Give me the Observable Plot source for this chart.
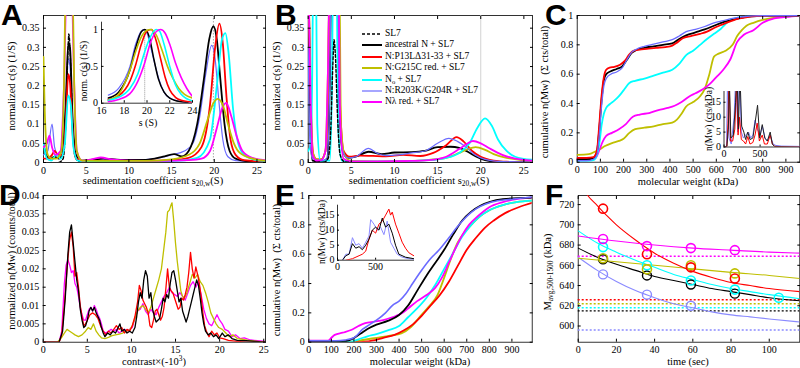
<!DOCTYPE html>
<html><head><meta charset="utf-8">
<script src="https://cdn.jsdelivr.net/npm/d3@7"></script>
<script src="https://cdn.jsdelivr.net/npm/@observablehq/plot@0.6"></script>
<style>
body{margin:0;background:#fff;}
#fig{position:relative;width:800px;height:368px;overflow:hidden;font-family:"Liberation Serif","Times New Roman","Tinos","DejaVu Serif","Noto Serif",serif;color:#000;}
.lab{position:absolute;white-space:nowrap;line-height:1;}
.lab sub{font-size:70%;vertical-align:-0.35em;line-height:0;}
.lab sup{font-size:70%;vertical-align:0.45em;line-height:0;}
.letter{position:absolute;font-family:"Liberation Sans",Arial,sans-serif;font-weight:bold;font-size:30px;line-height:1;}
.leg{position:absolute;font-size:9.5px;white-space:nowrap;line-height:1;}
.leg sub{font-size:70%;vertical-align:-0.3em;line-height:0;}
</style></head>
<body><div id="fig"></div>
<script>
const SERIF = '"Liberation Serif","Times New Roman","Tinos","DejaVu Serif","Noto Serif",serif';
// ---------- colours ----------
const cBlack="#000000", cRed="#ff0000", cYellow="#bfbf00", cCyan="#00ffff", cBlue="#6b6bff", cMagenta="#ff00ff";

// ---------- panel A : c(s), sedimentation coefficient ----------
const A_sl7 = [[1.8,0],[2.3,0.01],[2.6,0.1],[2.85,0.28],[2.97,0.335],[3.15,0.27],[3.4,0.1],[3.7,0.015],[4.2,0.002],[5,0]];
const A_black = [[0,0.05],[0.3,0.02],[0.8,0.01],[1.3,0.015],[1.8,0.01],[2.2,0.02],[2.6,0.15],[2.9,0.31],[3.1,0.3],[3.4,0.12],[3.8,0.02],[4.5,0.005],[6,0.008],[7,0.01],[9,0.007],[12,0.007],[14,0.015],[15.3,0.022],[16.2,0.016],[17,0.03],[18,0.1],[18.8,0.22],[19.4,0.32],[19.9,0.355],[20.3,0.32],[20.7,0.22],[21.2,0.1],[21.8,0.03],[22.5,0.01],[24,0.003],[26,0.001]];
const A_red = [[0,0.01],[0.5,0.01],[1.0,0.02],[1.3,0.03],[1.7,0.02],[2.2,0.02],[2.6,0.1],[2.9,0.23],[3.1,0.21],[3.4,0.08],[3.8,0.01],[5,0.003],[8,0.004],[12,0.004],[15,0.006],[17,0.012],[18.5,0.04],[19.5,0.15],[20.1,0.3],[20.6,0.362],[21,0.31],[21.4,0.18],[21.9,0.06],[22.5,0.02],[23.5,0.006],[26,0.002]];
const A_cyan = [[0,0.05],[0.4,0.01],[0.9,0.005],[1.5,0.02],[2,0.01],[2.5,0.05],[2.9,0.175],[3.2,0.15],[3.5,0.04],[4,0.005],[6,0.002],[12,0.003],[16,0.005],[18,0.012],[19.5,0.06],[20.3,0.2],[20.9,0.32],[21.3,0.337],[21.7,0.28],[22.2,0.14],[22.8,0.05],[23.5,0.02],[25,0.006],[26,0.004]];
const A_blue = [[0,0.02],[0.5,0.03],[1.0,0.1],[1.3,0.04],[1.7,0.02],[2.2,0.03],[2.6,0.15],[2.9,0.27],[3.1,0.25],[3.4,0.1],[3.8,0.02],[4.5,0.004],[7,0.006],[10,0.005],[13,0.01],[15,0.02],[16.5,0.03],[17.5,0.05],[18.3,0.12],[19,0.23],[19.7,0.305],[20.1,0.27],[20.5,0.17],[21,0.06],[21.6,0.015],[22.5,0.005],[26,0.002]];
const A_magenta = [[0,0.04],[0.4,0.05],[0.7,0.07],[1.0,0.04],[1.4,0.02],[2.0,0.03],[2.4,0.2],[2.7,0.45],[3.3,0.45],[3.6,0.2],[3.9,0.03],[4.5,0.005],[6,0.01],[6.7,0.013],[8,0.008],[10,0.005],[14,0.004],[17,0.006],[18.5,0.01],[19.5,0.03],[20.3,0.09],[20.9,0.14],[21.4,0.155],[22,0.12],[22.6,0.07],[23.3,0.03],[24.5,0.012],[26,0.006]];
const A_yellow = [[0,0.275],[0.2,0.1],[0.5,0.02],[1,0.01],[1.5,0.01],[2.1,0.03],[2.4,0.2],[2.6,0.45],[3.4,0.45],[3.6,0.2],[3.9,0.03],[4.5,0.005],[8,0.004],[12,0.004],[15,0.008],[17,0.02],[18.3,0.05],[19.2,0.11],[19.9,0.155],[20.4,0.166],[21,0.15],[21.6,0.1],[22.3,0.05],[23,0.025],[24.5,0.01],[26,0.005]];
// inset of A : normalized c(s)
const Ai_blue = [[16.6,0.11],[17.5,0.2],[18.5,0.5],[19.0,0.8],[19.5,0.98],[19.7,1.0],[20.0,0.95],[20.5,0.65],[21,0.35],[21.5,0.15],[22,0.07],[22.5,0.04],[23,0.02],[24,0.01]];
const Ai_black = [[16.6,0.07],[17.5,0.15],[18.5,0.45],[19,0.75],[19.5,0.97],[19.8,1.0],[20.2,0.9],[20.6,0.6],[21,0.33],[21.5,0.15],[22,0.07],[23,0.02],[23.6,0.01]];
const Ai_red = [[16.6,0.05],[17.5,0.1],[18.5,0.3],[19,0.52],[19.5,0.8],[20,0.98],[20.4,1.0],[20.8,0.85],[21.2,0.6],[21.6,0.35],[22,0.18],[22.5,0.08],[23,0.04],[24,0.015]];
const Ai_yellow = [[16.6,0.04],[17.5,0.12],[18.5,0.45],[19,0.7],[19.5,0.9],[20,0.99],[20.3,1.0],[20.8,0.93],[21.3,0.73],[21.8,0.5],[22.3,0.33],[22.8,0.2],[23.3,0.12],[24,0.07]];
const Ai_cyan = [[16.6,0.04],[17.5,0.08],[18.5,0.2],[19.2,0.4],[19.8,0.7],[20.3,0.9],[20.8,1.0],[21.1,0.98],[21.5,0.8],[22,0.5],[22.5,0.25],[23,0.12],[23.5,0.06],[24,0.03]];
const Ai_magenta = [[16.6,0.02],[17.5,0.05],[18.5,0.13],[19.2,0.3],[19.8,0.55],[20.3,0.82],[20.8,0.97],[21.2,1.0],[21.6,0.95],[22,0.8],[22.5,0.55],[23,0.35],[23.5,0.2],[24,0.09]];

// ---------- panel B ----------
const B_sl7 = [[1.8,0],[2.3,0.01],[2.6,0.08],[2.85,0.25],[3.0,0.32],[3.15,0.28],[3.4,0.12],[3.7,0.02],[4.2,0.002],[5,0]];
const B_black = [[0,0.5],[0.25,0.1],[0.5,0.005],[1.5,0.002],[2.2,0.01],[2.5,0.2],[2.7,0.5],[3.4,0.5],[3.6,0.15],[4,0.03],[4.6,0.012],[5.5,0.015],[7,0.028],[8.5,0.022],[10,0.026],[12,0.027],[13.5,0.03],[15,0.04],[16.5,0.041],[17.5,0.038],[18.5,0.028],[19.5,0.015],[20.5,0.006],[22,0.002],[26,0.0005]];
const B_red = [[0,0.5],[0.3,0.15],[0.6,0.02],[1.0,0.008],[1.5,0.008],[2.0,0.03],[2.3,0.2],[2.5,0.5],[3.5,0.5],[3.7,0.15],[4.1,0.03],[4.8,0.015],[6,0.018],[7.5,0.017],[9,0.016],[11,0.02],[13,0.017],[14.5,0.025],[16,0.045],[17.2,0.066],[18,0.055],[19,0.03],[20,0.015],[21.5,0.005],[23,0.002],[26,0.0005]];
const B_yellow = [[0,0.5],[0.2,0.3],[0.5,0.03],[1,0.008],[1.5,0.008],[2,0.03],[2.3,0.25],[2.5,0.5],[3.6,0.5],[3.8,0.1],[4.2,0.02],[5,0.004],[8,0.003],[12,0.004],[14,0.007],[16,0.012],[17.5,0.025],[18.5,0.035],[19.4,0.04],[20.5,0.033],[21.5,0.022],[23,0.012],[24.5,0.007],[26,0.005]];
const B_cyan = [[0,0.03],[0.3,0.05],[0.45,0.2],[0.6,0.5],[0.9,0.5],[1.05,0.1],[1.4,0.005],[2.5,0.005],[2.75,0.2],[2.9,0.5],[3.3,0.5],[3.45,0.1],[3.9,0.005],[5,0.002],[10,0.003],[14,0.006],[16,0.012],[17.5,0.025],[18.7,0.05],[19.6,0.09],[20.5,0.115],[21.3,0.095],[22,0.06],[23,0.03],[24,0.015],[26,0.007]];
const B_blue = [[0,0.3],[0.2,0.05],[0.5,0.01],[1.5,0.005],[2.2,0.01],[2.5,0.2],[2.7,0.5],[3.4,0.5],[3.6,0.15],[4,0.03],[4.6,0.012],[5.5,0.015],[7,0.037],[8,0.024],[9,0.018],[10.5,0.02],[12,0.025],[13.5,0.03],[15,0.05],[16.3,0.063],[17.3,0.055],[18.3,0.04],[19.3,0.02],[20.5,0.008],[22,0.003],[26,0.001]];
const B_magenta = [[0,0.5],[0.25,0.2],[0.5,0.02],[1,0.005],[1.5,0.006],[2,0.03],[2.3,0.25],[2.5,0.5],[3.5,0.5],[3.7,0.12],[4.1,0.01],[5,0.003],[8,0.003],[12,0.004],[14,0.006],[16,0.015],[17.5,0.035],[18.5,0.05],[19.1,0.056],[20,0.05],[21,0.037],[22.5,0.02],[24,0.01],[26,0.005]];
const legendLabels = ["SL7","ancestral N + SL7","N:P13L&Delta;31-33 + SL7","N:G215C red. + SL7","N<sub>o</sub> + SL7","N:R203K/G204R + SL7","N&lambda; red. + SL7"];
const legendColors = [cBlack,cBlack,cRed,cYellow,cCyan,cBlue,cMagenta];
const legendRows = [34,45.2,56.7,68,79.5,91,102.3];

// ---------- panel C : cumulative n(Mw) ----------
const C_red = [[0,0.03],[40,0.03],[70,0.035],[85,0.08],[95,0.25],[105,0.45],[115,0.58],[125,0.63],[140,0.645],[160,0.65],[185,0.665],[205,0.69],[225,0.735],[245,0.76],[270,0.767],[300,0.772],[340,0.78],[380,0.785],[410,0.795],[430,0.815],[455,0.845],[490,0.86],[530,0.875],[560,0.89],[590,0.915],[620,0.935],[660,0.96],[700,0.98],[740,0.99],[800,0.998],[960,1]];
const C_black = [[0,0.02],[40,0.02],[70,0.03],[85,0.07],[95,0.22],[105,0.42],[115,0.56],[125,0.6],[145,0.62],[170,0.635],[195,0.655],[215,0.7],[235,0.745],[255,0.765],[290,0.78],[330,0.79],[370,0.8],[410,0.81],[440,0.84],[470,0.865],[510,0.885],[550,0.905],[590,0.93],[630,0.955],[670,0.97],[710,0.985],[760,0.997],[960,1]];
const C_blue = [[0,0.01],[40,0.01],[70,0.02],[85,0.05],[95,0.18],[105,0.38],[115,0.52],[125,0.57],[145,0.6],[170,0.615],[195,0.645],[215,0.7],[235,0.75],[255,0.77],[290,0.79],[330,0.805],[370,0.82],[410,0.835],[440,0.86],[470,0.89],[510,0.905],[550,0.925],[590,0.95],[630,0.965],[670,0.98],[710,0.99],[760,0.998],[960,1]];
const C_cyan = [[0,0.01],[50,0.01],[72,0.016],[85,0.05],[95,0.12],[105,0.25],[115,0.33],[125,0.37],[140,0.395],[160,0.42],[180,0.45],[200,0.49],[225,0.54],[250,0.555],[290,0.57],[330,0.59],[370,0.61],[410,0.63],[440,0.67],[470,0.73],[500,0.76],[530,0.8],[560,0.84],[590,0.875],[620,0.91],[650,0.955],[680,0.98],[720,0.99],[800,0.998],[960,1]];
const C_magenta = [[0,0.02],[50,0.02],[80,0.03],[95,0.08],[110,0.14],[125,0.18],[150,0.2],[180,0.225],[210,0.26],[240,0.31],[270,0.325],[310,0.335],[350,0.355],[390,0.37],[420,0.385],[450,0.41],[480,0.445],[510,0.47],[540,0.495],[570,0.53],[600,0.58],[630,0.63],[660,0.7],[690,0.82],[720,0.87],[760,0.9],[800,0.95],[850,0.98],[900,0.99],[960,1]];
const C_yellow = [[0,0.05],[50,0.055],[80,0.075],[100,0.09],[120,0.11],[150,0.13],[180,0.145],[200,0.16],[225,0.2],[250,0.225],[290,0.235],[330,0.245],[370,0.26],[410,0.27],[430,0.29],[450,0.33],[470,0.38],[500,0.41],[530,0.45],[550,0.5],[570,0.6],[590,0.72],[610,0.74],[640,0.76],[670,0.8],[690,0.86],[710,0.9],[730,0.93],[760,0.95],[800,0.97],[850,0.985],[900,0.995],[960,1]];
// inset of C : n(Mw)
const Ci_black = [[0,0],[40,0.2],[60,6],[75,22],[95,3],[130,4],[160,15],[180,25],[200,6],[220,25],[245,7],[275,5],[300,2.5],[330,5],[360,2.5],[400,3],[430,8],[465,14],[495,3],[530,7.5],[565,3],[600,2],[640,5],[670,1],[700,0.2],[1060,0]];
const Ci_red = [[0,0],[40,0.2],[55,8],[70,25],[90,2],[120,2],[150,6],[175,22],[195,4],[215,10],[240,2.5],[270,2],[300,1],[330,3.5],[360,1],[400,1.5],[430,4],[460,8],[490,2],[530,4],[560,1],[600,1],[640,4],[670,1],[700,0.2],[1060,0]];
const Ci_blue = [[0,0],[35,0.3],[50,25],[70,3],[100,1],[140,10],[165,25],[190,5],[215,25],[240,5],[270,3],[300,4],[340,5],[370,3],[400,4],[430,9],[460,6],[500,4],[530,7],[570,3],[600,2],[640,4],[680,1],[720,0.5],[800,0.3],[1060,0.2]];

// ---------- panel D : contrast histograms ----------
const D_black = [[0,0],[1.8,0],[2.2,0.003],[2.5,0.012],[2.8,0.024],[3.0,0.03],[3.2,0.032],[3.4,0.027],[3.6,0.022],[3.8,0.017],[4.0,0.014],[4.2,0.009],[4.4,0.006],[4.6,0.004],[4.8,0.0045],[5.0,0.006],[5.2,0.0085],[5.4,0.0095],[5.6,0.0085],[5.8,0.0095],[6.0,0.008],[6.2,0.007],[6.4,0.006],[6.6,0.004],[6.8,0.0025],[7.0,0.0015],[7.3,0.0025],[7.6,0.002],[7.9,0.003],[8.2,0.0025],[8.5,0.004],[8.7,0.005],[8.9,0.003],[9.2,0.0035],[9.5,0.0025],[9.8,0.003],[10.1,0.0025],[10.4,0.004],[10.6,0.007],[10.8,0.011],[11.0,0.0135],[11.2,0.012],[11.4,0.017],[11.6,0.0195],[11.8,0.018],[12.0,0.012],[12.2,0.0135],[12.4,0.009],[12.6,0.007],[12.8,0.0055],[13.0,0.006],[13.2,0.0065],[13.4,0.009],[13.6,0.012],[13.8,0.011],[14.0,0.013],[14.2,0.012],[14.4,0.016],[14.6,0.019],[14.8,0.0195],[15.0,0.017],[15.2,0.014],[15.4,0.011],[15.6,0.012],[15.8,0.0085],[16.0,0.007],[16.2,0.0055],[16.4,0.007],[16.6,0.009],[16.8,0.011],[17.0,0.013],[17.2,0.015],[17.4,0.017],[17.6,0.0155],[17.8,0.012],[18.0,0.008],[18.2,0.005],[18.4,0.003],[18.7,0.002],[19.0,0.0025],[19.3,0.0015],[19.6,0.002],[19.9,0.001],[20.3,0.0025],[20.6,0.0015],[21.0,0.002],[21.4,0.001],[22,0.0005],[23,0.0004],[24,0.0002],[25.2,0]];
const D_red = [[0,0],[1.8,0],[2.1,0.002],[2.4,0.01],[2.7,0.02],[3.0,0.028],[3.2,0.03],[3.4,0.026],[3.6,0.018],[3.8,0.019],[4.0,0.015],[4.2,0.01],[4.4,0.007],[4.6,0.0045],[4.8,0.005],[5.0,0.006],[5.3,0.0075],[5.6,0.008],[5.9,0.0075],[6.2,0.0065],[6.5,0.0045],[6.8,0.003],[7.1,0.002],[7.4,0.003],[7.7,0.0025],[8.0,0.0035],[8.3,0.0045],[8.6,0.0035],[8.9,0.004],[9.2,0.0025],[9.5,0.0035],[9.8,0.003],[10.1,0.0045],[10.4,0.007],[10.7,0.011],[10.9,0.0155],[11.1,0.014],[11.3,0.0115],[11.5,0.0105],[11.7,0.0095],[11.9,0.008],[12.1,0.0045],[12.3,0.004],[12.5,0.006],[12.7,0.0085],[12.9,0.009],[13.1,0.0075],[13.3,0.006],[13.5,0.007],[13.7,0.0095],[13.9,0.0145],[14.1,0.02],[14.3,0.015],[14.5,0.014],[14.7,0.0135],[14.9,0.012],[15.1,0.0105],[15.3,0.009],[15.5,0.0095],[15.7,0.012],[15.9,0.0115],[16.1,0.013],[16.3,0.015],[16.5,0.019],[16.7,0.0245],[16.9,0.02],[17.1,0.0175],[17.3,0.0205],[17.5,0.0185],[17.7,0.016],[17.9,0.0125],[18.1,0.008],[18.3,0.0045],[18.5,0.003],[18.8,0.0015],[19.1,0.003],[19.4,0.002],[19.7,0.0025],[20.0,0.0012],[20.4,0.001],[21,0.0005],[22,0.0002],[23,0],[25.2,0]];
const D_magenta = [[0,0],[1.8,0],[2.1,0.003],[2.4,0.016],[2.6,0.021],[2.8,0.0225],[3.0,0.021],[3.2,0.019],[3.4,0.0195],[3.6,0.016],[3.8,0.015],[4.0,0.0125],[4.2,0.0095],[4.4,0.0075],[4.6,0.006],[4.8,0.006],[5.0,0.0075],[5.2,0.009],[5.4,0.0095],[5.6,0.0085],[5.8,0.01],[6.0,0.009],[6.2,0.0075],[6.4,0.0065],[6.6,0.005],[6.8,0.003],[7.1,0.0025],[7.4,0.003],[7.7,0.0035],[8.0,0.003],[8.3,0.0035],[8.6,0.0025],[8.9,0.003],[9.2,0.0035],[9.5,0.003],[9.8,0.0035],[10.1,0.004],[10.4,0.0065],[10.7,0.0085],[11.0,0.009],[11.3,0.0105],[11.6,0.0085],[11.9,0.0075],[12.2,0.009],[12.5,0.008],[12.8,0.0075],[13.1,0.0095],[13.4,0.011],[13.7,0.0125],[14.0,0.0135],[14.3,0.015],[14.6,0.0135],[14.9,0.013],[15.2,0.0125],[15.5,0.0135],[15.8,0.0125],[16.1,0.0115],[16.4,0.0135],[16.7,0.0155],[17.0,0.0165],[17.3,0.015],[17.6,0.0165],[17.9,0.013],[18.2,0.009],[18.5,0.0065],[18.8,0.005],[19.1,0.0045],[19.4,0.006],[19.7,0.0075],[20.0,0.006],[20.3,0.005],[20.6,0.0035],[21.0,0.003],[21.4,0.0015],[21.8,0.002],[22.3,0.001],[22.8,0.0012],[23.5,0.0006],[24.3,0.0004],[25.2,0.0002]];
const D_yellow = [[0,0],[1.6,0],[2.0,0.001],[2.4,0.0025],[2.7,0.0035],[3.0,0.003],[3.3,0.0025],[3.6,0.002],[4.0,0.0015],[4.4,0.002],[4.8,0.003],[5.1,0.004],[5.4,0.0035],[5.7,0.005],[6.0,0.003],[6.3,0.002],[6.6,0.0012],[7.0,0.001],[7.4,0.0013],[7.8,0.0018],[8.2,0.002],[8.6,0.0022],[9.0,0.0025],[9.4,0.003],[9.8,0.0033],[10.1,0.0045],[10.4,0.0065],[10.7,0.0085],[11.0,0.0095],[11.3,0.01],[11.6,0.009],[11.9,0.008],[12.2,0.0095],[12.5,0.012],[12.8,0.0145],[13.1,0.017],[13.4,0.02],[13.7,0.026],[13.9,0.03],[14.1,0.0355],[14.3,0.036],[14.5,0.0375],[14.6,0.038],[14.8,0.033],[15.0,0.027],[15.2,0.022],[15.4,0.018],[15.6,0.014],[15.8,0.0125],[16.0,0.012],[16.3,0.0135],[16.6,0.016],[16.9,0.0185],[17.2,0.0175],[17.5,0.0185],[17.8,0.0165],[18.1,0.0155],[18.4,0.0135],[18.7,0.011],[19.0,0.008],[19.3,0.0065],[19.6,0.005],[19.9,0.004],[20.3,0.0035],[20.7,0.0025],[21.1,0.0015],[21.5,0.002],[22,0.001],[22.6,0.0008],[23.3,0.0005],[24,0.0003],[25.2,0]];

// ---------- panel E : cumulative n(Mw) ----------
const E_blue = [[0,0.01],[120,0.01],[160,0.015],[200,0.03],[240,0.09],[270,0.12],[300,0.15],[340,0.2],[370,0.25],[400,0.28],[430,0.33],[460,0.4],[500,0.49],[540,0.57],[575,0.625],[620,0.71],[660,0.79],[720,0.885],[810,0.955],[900,0.975],[990,0.99]];
const E_black = [[0,0.005],[150,0.005],[190,0.02],[230,0.06],[260,0.09],[300,0.12],[350,0.145],[400,0.185],[440,0.25],[480,0.35],[520,0.45],[560,0.54],[600,0.63],[640,0.735],[680,0.83],[720,0.89],[760,0.93],[800,0.955],[860,0.975],[990,0.985]];
const E_cyan = [[0,0.002],[180,0.002],[220,0.02],[260,0.04],[300,0.055],[350,0.08],[400,0.11],[440,0.17],[480,0.23],[520,0.3],[560,0.39],[600,0.5],[640,0.61],[680,0.72],[720,0.8],[760,0.86],[800,0.9],[860,0.935],[920,0.955],[990,0.965]];
const E_magenta = [[0,0.01],[85,0.01],[100,0.03],[115,0.05],[150,0.065],[190,0.085],[220,0.11],[250,0.13],[290,0.14],[330,0.15],[370,0.17],[410,0.195],[440,0.23],[480,0.28],[520,0.32],[560,0.37],[590,0.44],[620,0.54],[650,0.64],[680,0.73],[710,0.8],[750,0.86],[800,0.92],[860,0.955],[920,0.975],[990,0.985]];
const E_yellow = [[0,0.002],[190,0.002],[240,0.015],[300,0.03],[360,0.045],[410,0.06],[450,0.1],[490,0.17],[530,0.24],[570,0.32],[600,0.44],[630,0.57],[660,0.68],[690,0.75],[720,0.8],[760,0.86],[800,0.9],[860,0.935],[920,0.955],[990,0.965]];
const E_red = [[0,0],[230,0],[280,0.01],[330,0.03],[380,0.05],[420,0.08],[460,0.12],[500,0.18],[540,0.25],[580,0.32],[620,0.41],[660,0.52],[700,0.63],[740,0.71],[780,0.78],[820,0.83],[870,0.88],[930,0.92],[990,0.95]];
// inset of E
const Ei_blue = [[65,0],[109,2],[152,2],[196,7.5],[239,5],[283,5.5],[326,4],[370,6],[413,8],[435,13.5],[478,12],[522,10],[565,11],[609,8.5],[652,13],[696,6],[739,4],[783,2],[848,1],[935,0.5],[1000,0.3]];
const Ei_black = [[65,0],[109,1.5],[152,2],[196,5.5],[239,4],[283,4.5],[326,3.5],[370,5],[413,7],[457,10],[500,11],[544,10],[587,14],[631,11],[674,12],[718,9],[761,5],[805,2],[892,1],[1000,0.5]];
const Ei_red = [[109,0],[196,0.5],[283,1.5],[326,2],[370,3],[413,7],[457,10],[500,9],[544,12],[587,13],[631,15],[674,17],[696,15],[718,16],[761,12],[805,9],[848,6],[892,4],[935,2.5],[1000,1.5]];

// ---------- panel F : M_avg vs time ----------
const F_red_pts = [[13,716],[36,671],[59,658],[82,647]];
const F_magenta_pts = [[13,686],[36,679],[59,677],[82,675]];
const F_cyan_pts = [[13,678],[36,660],[59,645],[82,636],[105,628]];
const F_yellow_pts = [[13,667],[36,656],[59,660],[82,652]];
const F_black_pts = [[13,666],[36,650],[59,641],[82,632]];
const F_blue_pts = [[13,651],[36,631],[59,620]];
const F_red_fit = [[0,745],[5,729],[10,719],[15,709],[20,700],[30,685],[40,672],[50,662],[60,654],[70,648],[80,643],[90,640],[100,637],[116,634]];
const F_magenta_fit = [[0,689],[20,684],[40,680],[60,677],[80,675],[100,673],[116,672]];
const F_cyan_fit = [[0,694],[10,682],[20,673],[30,665],[40,658],[50,651],[60,646],[70,641],[80,637],[90,634],[100,631],[116,627]];
const F_yellow_fit = [[0,667],[20,663.5],[40,660],[60,656.5],[80,653],[100,650],[116,647]];
const F_black_fit = [[0,677],[10,668],[20,661],[30,655],[40,649],[50,645],[60,641],[70,637],[80,634],[90,631],[100,628],[116,625]];
const F_blue_fit = [[0,668],[10,655],[20,644],[30,635],[40,628],[50,622],[60,618],[70,614],[80,611],[90,609],[100,607],[116,604]];
const F_asymptotes = [669,626,622,618,615,596];
const F_asymColors = [cMagenta,cRed,cYellow,cCyan,cBlack,"#8a8aff"];

// ---------- ticks ----------
const ticksS = [0,5,10,15,20,25];
const ticksCS = [0,0.05,0.1,0.15,0.2,0.25,0.3,0.35];
const ticksMW = [0,100,200,300,400,500,600,700,800,900];
const ticksCum = [0,0.2,0.4,0.6,0.8,1];
const ticksContrast = [0,5,10,15,20,25];
const ticksND = [0,0.005,0.01,0.015,0.02,0.025,0.03,0.035,0.04];
const ticksTime = [0,20,40,60,80,100];
const ticksM = [600,620,640,660,680,700,720];
const ticksInsetS = [16,18,20,22,24];
const ticksInsetN = [0,0.5,1];
const ticksInsetMW = [0,500];
const ticksInsetCts = [0,5,10,15];

// ---------- helpers ----------
const fig = document.getElementById("fig");
const fmt = d => String(+(+d).toFixed(3));
const X = d => d[0], Y = d => d[1];
function ln(data, stroke, w=1.8, extra={}) {
  return Plot.line(data, {x: X, y: Y, stroke, strokeWidth: w, curve: "monotone-x", clip: true, ...extra});
}
function chart(o) {
  const marks = [];
  if (o.box) marks.push(Plot.frame({stroke: "#000", strokeWidth: 0.8}));
  else marks.push(Plot.ruleX([o.xdom[0]], {stroke: "#000", strokeWidth: 0.8}), Plot.ruleY([o.ydom[0]], {stroke: "#000", strokeWidth: 0.8}));
  marks.push(...o.marks);
  const ts = o.ts ?? -3;
  const tp = o.tp ?? 7;
  marks.push(Plot.axisX(o.xt, {anchor: "bottom", tickSize: ts, tickPadding: tp, tickFormat: o.xf ?? fmt, label: null, fontFamily: SERIF}));
  marks.push(Plot.axisY(o.yt, {anchor: "left", tickSize: ts, tickPadding: tp, tickFormat: o.yf ?? fmt, label: null, fontFamily: SERIF}));
  if (o.box) {
    marks.push(Plot.axisX(o.xt, {anchor: "top", tickSize: ts, tickFormat: () => "", label: null}));
    marks.push(Plot.axisY(o.yt, {anchor: "right", tickSize: ts, tickFormat: () => "", label: null}));
  }
  const svg = Plot.plot({
    width: o.w, height: o.h,
    marginLeft: o.ml, marginRight: o.mr, marginTop: o.mt, marginBottom: o.mb,
    x: {domain: o.xdom}, y: {domain: o.ydom},
    style: {fontFamily: SERIF, fontSize: (o.fs ?? 10) + "px", background: "transparent", overflow: "visible", color: "#000"},
    marks
  });
  svg.style.position = "absolute";
  svg.style.left = o.left + "px";
  svg.style.top = o.top + "px";
  svg.style.maxWidth = "none";
  svg.style.fontFamily = SERIF;
  fig.appendChild(svg);
}
function label(html, cx, cy, rot=false, size=10.5) {
  const d = document.createElement("div");
  d.className = "lab";
  d.innerHTML = html;
  d.style.left = cx + "px"; d.style.top = cy + "px"; d.style.fontSize = size + "px";
  d.style.transform = "translate(-50%,-50%)" + (rot ? " rotate(-90deg)" : "");
  fig.appendChild(d);
}
function letter(t, x, y) {
  const d = document.createElement("div");
  d.className = "letter"; d.textContent = t;
  d.style.left = x + "px"; d.style.top = y + "px";
  fig.appendChild(d);
}

// ---------- Panel A ----------
chart({left: 0, top: 0, w: 268, h: 180, ml: 43, mr: 3, mt: 15, mb: 18,
  xdom: [0, 26], ydom: [0, 0.383], xt: ticksS, yt: ticksCS, box: true,
  marks: [
    Plot.ruleX([19.9], {stroke: "#aaa", strokeWidth: 1, strokeDasharray: "1.5,1.5"}),
    ln(A_blue, cBlue, 1.2), ln(A_black, cBlack), ln(A_sl7, cBlack, 1.4, {strokeDasharray: "3,2"}),
    ln(A_red, cRed), ln(A_cyan, cCyan), ln(A_magenta, cMagenta), ln(A_yellow, cYellow)
  ]});
// ---------- Panel B ----------
chart({left: 265, top: 0, w: 270, h: 180, ml: 42.7, mr: 3, mt: 15, mb: 18,
  xdom: [0, 26], ydom: [0, 0.383], xt: ticksS, yt: ticksCS, box: true,
  marks: [
    Plot.ruleX([20], {stroke: "#c8c8c8", strokeWidth: 0.8}),
    ln(B_black, cBlack), ln(B_red, cRed), ln(B_yellow, cYellow), ln(B_cyan, cCyan),
    ln(B_blue, cBlue, 1.2), ln(B_magenta, cMagenta), ln(B_sl7, cBlack, 1.4, {strokeDasharray: "3,2"})
  ]});
// ---------- Panel C ----------
chart({left: 530, top: 0, w: 270, h: 180, ml: 46.7, mr: 0.7, mt: 15, mb: 18.3,
  xdom: [0, 960], ydom: [0, 1], xt: ticksMW, yt: ticksCum, box: true,
  marks: [
    ln(C_yellow, cYellow), ln(C_magenta, cMagenta), ln(C_cyan, cCyan),
    ln(C_black, cBlack), ln(C_red, cRed), ln(C_blue, cBlue, 1.3)
  ]});
// ---------- Panel D ----------
chart({left: 0, top: 180, w: 268, h: 180, ml: 42.7, mr: 3, mt: 15, mb: 18.3,
  xdom: [0, 25.2], ydom: [0, 0.04], xt: ticksContrast, yt: ticksND, box: true,
  marks: [
    Plot.line(D_magenta, {x: X, y: Y, stroke: cMagenta, strokeWidth: 1.3, clip: true}),
    Plot.line(D_yellow, {x: X, y: Y, stroke: cYellow, strokeWidth: 1.3, clip: true}),
    Plot.line(D_red, {x: X, y: Y, stroke: cRed, strokeWidth: 1.3, clip: true}),
    Plot.line(D_black, {x: X, y: Y, stroke: cBlack, strokeWidth: 1.3, clip: true})
  ]});
// ---------- Panel E ----------
chart({left: 265, top: 180, w: 268, h: 180, ml: 43.3, mr: 1.3, mt: 15, mb: 18.3,
  xdom: [0, 990], ydom: [0, 1], xt: ticksMW, yt: ticksCum, box: true,
  marks: [
    ln(E_yellow, cYellow), ln(E_red, cRed), ln(E_cyan, cCyan),
    ln(E_magenta, cMagenta), ln(E_black, cBlack), ln(E_blue, cBlue, 1.6)
  ]});
// ---------- Panel F ----------
const fLineW = 1.1;
chart({left: 530, top: 180, w: 270, h: 180, ml: 47.7, mr: 0.7, mt: 15, mb: 18.3,
  xdom: [0, 116], ydom: [584, 729], xt: ticksTime, yt: ticksM, box: true,
  marks: [
    ...F_asymptotes.map((v, i) => Plot.ruleY([v], {stroke: F_asymColors[i], strokeWidth: 1.4, strokeDasharray: "2,2"})),
    ln(F_blue_fit, "#8a8aff", fLineW), ln(F_black_fit, cBlack, fLineW), ln(F_cyan_fit, cCyan, fLineW),
    ln(F_yellow_fit, cYellow, fLineW), ln(F_red_fit, cRed, fLineW), ln(F_magenta_fit, cMagenta, fLineW),
    Plot.dot(F_blue_pts, {x: X, y: Y, r: 4.5, stroke: "#8a8aff", strokeWidth: 1.4, fill: "none"}),
    Plot.dot(F_black_pts, {x: X, y: Y, r: 4.5, stroke: cBlack, strokeWidth: 1.4, fill: "none"}),
    Plot.dot(F_cyan_pts, {x: X, y: Y, r: 4.5, stroke: cCyan, strokeWidth: 1.6, fill: "none"}),
    Plot.dot(F_yellow_pts, {x: X, y: Y, r: 4.5, stroke: cYellow, strokeWidth: 1.6, fill: "none"}),
    Plot.dot(F_red_pts, {x: X, y: Y, r: 4.5, stroke: cRed, strokeWidth: 1.6, fill: "none"}),
    Plot.dot(F_magenta_pts, {x: X, y: Y, r: 4.5, stroke: cMagenta, strokeWidth: 1.6, fill: "none"})
  ]});

// ---------- Insets ----------
chart({left: 60, top: 10, w: 135, h: 105, ml: 41, mr: 3, mt: 11.7, mb: 12.3,
  xdom: [16, 24], ydom: [0, 1.1], xt: ticksInsetS, yt: ticksInsetN, box: false, ts: -2.5, tp: 6,
  marks: [
    Plot.ruleX([19.8], {y1: 0, y2: 1, stroke: "#999", strokeWidth: 1, strokeDasharray: "1,1"}),
    ln(Ai_blue, cBlue, 1.2), ln(Ai_black, cBlack, 1.5), ln(Ai_red, cRed, 1.6),
    ln(Ai_yellow, cYellow, 1.6), ln(Ai_cyan, cCyan, 1.6), ln(Ai_magenta, cMagenta, 1.6)
  ]});
chart({left: 700, top: 80, w: 100, h: 80, ml: 23.5, mr: 0, mt: 11, mb: 13.5,
  xdom: [0, 1060], ydom: [0, 18.6], xt: ticksInsetMW, yt: ticksInsetCts, box: false, ts: -2, tp: 5,
  marks: [
    Plot.line(Ci_blue, {x: X, y: Y, stroke: "#7a7aff", strokeWidth: 1, clip: true}),
    Plot.line(Ci_red, {x: X, y: Y, stroke: cRed, strokeWidth: 1, clip: true}),
    Plot.line(Ci_black, {x: X, y: Y, stroke: "#222", strokeWidth: 1, clip: true})
  ]});
chart({left: 313, top: 195, w: 101, h: 78, ml: 24, mr: 0, mt: 9.7, mb: 13.3,
  xdom: [0, 1010], ydom: [0, 18.3], xt: ticksInsetMW, yt: ticksInsetCts, box: false, ts: -2, tp: 5,
  marks: [
    Plot.line(Ei_blue, {x: X, y: Y, stroke: "#8a8aff", strokeWidth: 1, clip: true}),
    Plot.line(Ei_red, {x: X, y: Y, stroke: cRed, strokeWidth: 1, clip: true}),
    Plot.line(Ei_black, {x: X, y: Y, stroke: cBlack, strokeWidth: 1, clip: true})
  ]});

// ---------- Legend (panel B) ----------
legendLabels.forEach((t, i) => {
  const y = legendRows[i];
  const s = document.createElementNS("http://www.w3.org/2000/svg", "svg");
  s.setAttribute("width", 22); s.setAttribute("height", 6);
  s.style.position = "absolute"; s.style.left = "361px"; s.style.top = (y - 3) + "px";
  const l = document.createElementNS("http://www.w3.org/2000/svg", "line");
  l.setAttribute("x1", 1); l.setAttribute("x2", 21); l.setAttribute("y1", 3); l.setAttribute("y2", 3);
  l.setAttribute("stroke", legendColors[i]);
  l.setAttribute("stroke-width", i === 0 ? 1.4 : (i === 5 ? 1.2 : 2));
  if (i === 0) l.setAttribute("stroke-dasharray", "3,2");
  s.appendChild(l); fig.appendChild(s);
  const d = document.createElement("div");
  d.className = "leg"; d.innerHTML = t;
  d.style.left = "385px"; d.style.top = (y - 5) + "px";
  fig.appendChild(d);
});

// ---------- Axis titles ----------
label("normalized c(s) (1/S)", 12, 86, true);
label("sedimentation coefficient s<sub>20,w</sub>(S)", 153, 181);
label("normalized c(s) (1/S)", 277, 86, true);
label("sedimentation coefficient s<sub>20,w</sub>(S)", 419, 181);
label("cumulative n(Mw)&nbsp; (&Sigma; cts/total)", 545, 92, true);
label("molecular weight (kDa)", 688, 182);
label("normalized n(Mw) (counts/total)", 12, 261, true);
label("contrast&times;(-10<sup>3</sup>)", 154, 362);
label("cumulative n(Mw)&nbsp; (&Sigma; cts/total)", 277, 270, true);
label("molecular weight (kDa)", 420, 362);
label("M<sub>avg,500-1500</sub> (kDa)", 548, 272, true);
label("time (sec)", 688, 362);
// inset titles
label("norm. c(s) (1/S)", 84.5, 71, true, 9.5);
label("s (S)", 148, 123, false, 10);
label("n(Mw) (cts/kDa)", 710, 119, true, 9.5);
label("n(Mw) (cts/kDa)", 323, 232, true, 9.5);

// ---------- Panel letters ----------
letter("A", 1, 0); letter("B", 275, 0); letter("C", 545, 0);
letter("D", -1, 180); letter("E", 275, 180); letter("F", 545, 180);
</script>
</body></html>
